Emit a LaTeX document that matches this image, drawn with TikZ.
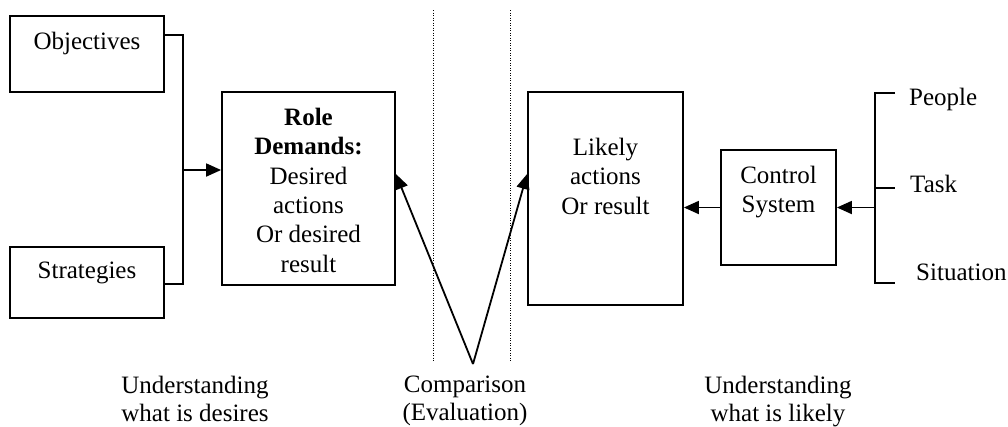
\documentclass[tikz,border=0pt]{standalone}
\usepackage{fontspec}
\setmainfont{Liberation Serif}
\usetikzlibrary{arrows.meta}
\begin{document}
\begin{tikzpicture}[x=1pt,y=-1pt,
  box/.style={draw, line width=1.8pt, inner sep=0pt, fill=white},
  txt/.style={font=\fontsize{25}{29.3}\selectfont, align=center, inner sep=0pt},
  btxt/.style={font=\fontsize{25}{28}\selectfont, align=center, inner sep=0pt},
  conn/.style={line width=1.8pt},
  arr/.style={conn, -{Triangle[length=15pt,width=13pt]}},
  sep/.style={line width=1pt, dash pattern=on 1pt off 1.5pt}]
\useasboundingbox (0,0) rectangle (1008,426);
% boxes
\node[box, minimum width=154pt, minimum height=76pt] (obj) at (87,54) {};
\node[box, minimum width=154pt, minimum height=71pt] (strat) at (87,282.5) {};
\node[box, minimum width=173pt, minimum height=193pt] (role) at (308.5,188.5) {};
\node[box, minimum width=155pt, minimum height=213pt] (likely) at (605.5,198.5) {};
\node[box, minimum width=115pt, minimum height=115pt] (ctrl) at (778.5,207.5) {};
% texts
\node[txt, anchor=base] (tobj) at (87,49) {Objectives};
\node[txt, anchor=base] (tstrat) at (87,278) {Strategies};
\node[txt, anchor=north] (trole) at (308.5,108) {\textbf{Role}\\\textbf{Demands:}\\Desired\\actions\\Or desired\\result};
\node[txt, anchor=north] (tlikely) at (605.5,138) {Likely\\actions\\Or result};
\node[txt, anchor=north] (tctrl) at (778.5,166) {Control\\System};
\node[txt, anchor=base west] (people) at (909,105) {People};
\node[txt, anchor=base west] (task) at (910,192) {Task};
\node[txt, anchor=base west] (sit) at (916,280) {Situation};
\node[btxt, anchor=north] (ud) at (195,376) {Understanding\\what is desires};
\node[btxt, anchor=north] (cmp) at (465,376) {Comparison\\(Evaluation)};
\node[btxt, anchor=north] (ul) at (778,376) {Understanding\\what is likely};
% left bracket
\coordinate (bo) at (183,35);
\coordinate (bs) at (183,284);
\coordinate (bm) at (183,170);
\draw[conn] (obj.east |- bo) -- (bo) -- (bs) -- (strat.east |- bs);
\draw[arr] (bm) -- (role.west |- bm);
% right bracket
\coordinate (pt) at (875,93);
\coordinate (pm) at (875,188);
\coordinate (pb) at (875,283);
\coordinate (pa) at (875,207.5);
\coordinate (pte) at (895,93);
\coordinate (pme) at (895,188);
\coordinate (pbe) at (895,283);
\draw[conn] (pte) -- (pt) -- (pb) -- (pbe);
\draw[conn] (pm) -- (pme);
\draw[arr] (pa) -- (ctrl.east);
\draw[arr] (ctrl.west) -- (likely.east |- ctrl.west);
% separators
\coordinate (s1t) at (433,10);
\coordinate (s1b) at (433,362);
\coordinate (s2t) at (510,10);
\coordinate (s2b) at (510,362);
\draw[sep] (s1t) -- (s1b);
\draw[sep] (s2t) -- (s2b);
% comparison arrows
\coordinate (v) at (473,364);
\coordinate (rt) at (395,174);
\coordinate (lt) at (529,174);
\draw[arr] (v) -- (role.east |- rt);
\draw[arr] (v) -- (likely.west |- lt);
\end{tikzpicture}
\end{document}
